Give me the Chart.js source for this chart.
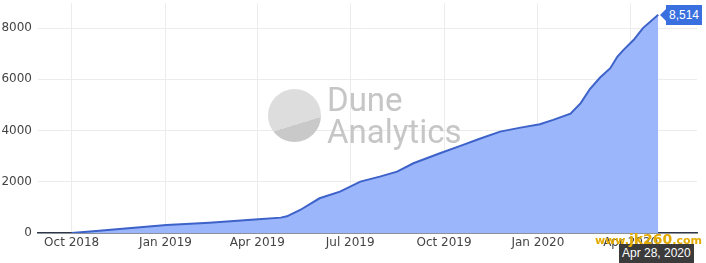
<!DOCTYPE html>
<html>
<head>
<meta charset="utf-8">
<script src="https://cdn.jsdelivr.net/npm/chart.js@4"></script>
<style>
  body { margin: 0; background: #fff; }
  #wrap { position: relative; width: 706px; height: 263px; }
  .wm { position: absolute; font-family: Roboto, "Noto Sans", sans-serif; color: #c6c6c6; font-size: 33px; line-height: 32px; font-weight: 400; }
  .logo { position: absolute; left: 268px; top: 89px; width: 53px; height: 53px; border-radius: 50%;
          background: linear-gradient(163deg, #dddddd 0%, #dddddd 64%, #c9c9c9 64%, #c9c9c9 100%); }
  .hover-y { position: absolute; left: 666px; top: 5px; height: 20px; padding: 0 3px; background: #3a6fe0; color: #fff;
             font: 12px "Liberation Sans", Arial, sans-serif; line-height: 20px; }
  .hover-y:before { content: ""; position: absolute; left: -6px; top: 4px; border-style: solid; border-width: 6px 6px 6px 0;
                    border-color: transparent #3a6fe0 transparent transparent; }
  .hover-x { position: absolute; left: 619px; top: 244px; height: 19px; padding: 0 3px; background: #3b3b3b; color: #fff;
             font: 12px "Liberation Sans", Arial, sans-serif; line-height: 19px; }
  .site { position: absolute; left: 595px; top: 231px; color: #e3aa00; font: bold 11px "DejaVu Sans", sans-serif; white-space: nowrap; }
  .site b { font-size: 14px; }
</style>
</head>
<body>
<div id="wrap">
  <canvas id="chart" width="706" height="263"></canvas>
  <div class="logo"></div>
  <div class="wm" style="left:327px; top:84px;">Dune</div>
  <div class="wm" style="left:327px; top:116px;">Analytics</div>
  <div class="hover-y">8,514</div>
  <div class="hover-x">Apr 28, 2020</div>
  <div class="site">www.<b>jk260</b>.com</div>
</div>
<script>
// cumulative count
const dates = [
  '2018-10-01', '2018-10-28', '2018-11-14', '2019-01-02', '2019-02-13', '2019-04-02',
  '2019-04-24', '2019-04-30', '2019-05-13', '2019-06-01', '2019-06-21', '2019-07-11',
  '2019-07-30', '2019-08-16', '2019-09-01', '2019-09-27', '2019-10-17', '2019-11-05',
  '2019-11-25', '2019-12-15', '2020-01-03', '2020-01-16', '2020-02-02', '2020-02-12',
  '2020-02-21', '2020-03-02', '2020-03-12', '2020-03-19', '2020-03-25', '2020-04-04',
  '2020-04-13', '2020-04-28'
];
const counts = [
  0, 90, 144, 312, 403, 534,
  600, 650, 898, 1355, 1614, 2004,
  2200, 2395, 2722, 3113, 3398, 3680,
  3957, 4113, 4246, 4414, 4660, 5070,
  5620, 6070, 6433, 6886, 7148, 7539,
  7996, 8514
];
const xTickDates = ['2018-10-01', '2019-01-01', '2019-04-01', '2019-07-01', '2019-10-01', '2020-01-01', '2020-04-01'];
const xTickLabels = ['Oct 2018', 'Jan 2019', 'Apr 2019', 'Jul 2019', 'Oct 2019', 'Jan 2020', 'Apr 2020'];
const yTicks = [0, 2000, 4000, 6000, 8000];

const start = Date.UTC(2018, 9, 1);
const dayOf = (s) => (Date.parse(s + 'T00:00:00Z') - start) / 86400000;
const xTickDays = xTickDates.map(dayOf);

const points = dates.map((d, i) => ({ x: dayOf(d), y: counts[i] }));

const font = { family: '"DejaVu Sans", Verdana, sans-serif', size: 12 };

new Chart(document.getElementById('chart'), {
  type: 'line',
  data: {
    datasets: [{
      data: points,
      borderColor: '#3d62c9',
      backgroundColor: '#9bb6fb',
      borderWidth: 2,
      pointRadius: 0,
      tension: 0,
      fill: 'origin'
    }]
  },
  options: {
    responsive: false,
    animation: false,
    layout: { padding: { top: 3, right: 9, left: 0, bottom: 0 } },
    plugins: { legend: { display: false }, tooltip: { enabled: false } },
    scales: {
      x: {
        type: 'linear',
        min: -33,
        max: 613,
        afterBuildTicks: (axis) => { axis.ticks = xTickDays.map(v => ({ value: v })); },
        afterFit: (axis) => { axis.height = 30; axis.paddingLeft = 0; axis.paddingRight = 0; },
        ticks: {
          color: '#444',
          font: font,
          padding: 3,
          maxRotation: 0,
          autoSkip: false,
          callback: (v) => xTickLabels[xTickDays.indexOf(v)]
        },
        grid: { color: '#ececec', drawTicks: false },
        border: { display: true, color: '#2f3647', width: 1.5 }
      },
      y: {
        min: 0,
        max: 8976,
        afterBuildTicks: (axis) => { axis.ticks = yTicks.map(v => ({ value: v })); },
        afterFit: (axis) => { axis.width = 38; axis.paddingTop = 0; axis.paddingBottom = 0; },
        ticks: { color: '#444', font: font, padding: 6, callback: (v) => String(v) },
        grid: { color: '#ececec', drawTicks: false },
        border: { display: false }
      }
    }
  }
});
</script>
</body>
</html>
